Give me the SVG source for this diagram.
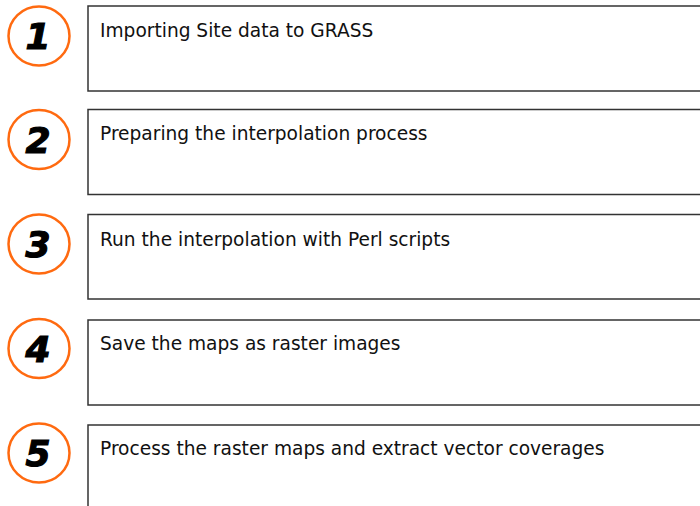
<svg xmlns="http://www.w3.org/2000/svg" width="700" height="506" viewBox="0 0 700 506">
<style>
.box{fill:#fff;stroke:#333;stroke-width:1.5}
.circ{fill:#fff;stroke:#ff6a10;stroke-width:2.5}
.num{font-family:"DejaVu Sans",sans-serif;font-weight:bold;font-style:italic;font-size:36px;fill:#000;stroke:#000;stroke-width:1.2;text-anchor:middle}
.lbl{font-family:"DejaVu Sans",sans-serif;font-size:18.6px;fill:#111}
</style>
<rect width="700" height="506" fill="#fff"/>
<g id="step1">
<ellipse class="circ" cx="39" cy="36" rx="30.5" ry="29.5"/>
<text class="num" x="38" y="49">1</text>
<rect class="box" x="88" y="6" width="620" height="85"/>
<text class="lbl" x="100" y="37">Importing Site data to GRASS</text>
</g>
<g id="step2">
<ellipse class="circ" cx="39" cy="139.5" rx="30.5" ry="29.5"/>
<text class="num" x="38" y="152.5">2</text>
<rect class="box" x="88" y="109.5" width="620" height="85"/>
<text class="lbl" x="100" y="140">Preparing the interpolation process</text>
</g>
<g id="step3">
<ellipse class="circ" cx="39" cy="244" rx="30.5" ry="29.5"/>
<text class="num" x="38" y="257">3</text>
<rect class="box" x="88" y="214.5" width="620" height="84.5"/>
<text class="lbl" x="100" y="246">Run the interpolation with Perl scripts</text>
</g>
<g id="step4">
<ellipse class="circ" cx="39" cy="348.5" rx="30.5" ry="29.5"/>
<text class="num" x="38" y="361.5">4</text>
<rect class="box" x="88" y="320" width="620" height="85"/>
<text class="lbl" x="100" y="350">Save the maps as raster images</text>
</g>
<g id="step5">
<ellipse class="circ" cx="39" cy="453" rx="30.5" ry="29.5"/>
<text class="num" x="38" y="466">5</text>
<rect class="box" x="88" y="425" width="620" height="90"/>
<text class="lbl" x="100" y="455">Process the raster maps and extract vector coverages</text>
</g>
<g id="connectors"></g>
</svg>
